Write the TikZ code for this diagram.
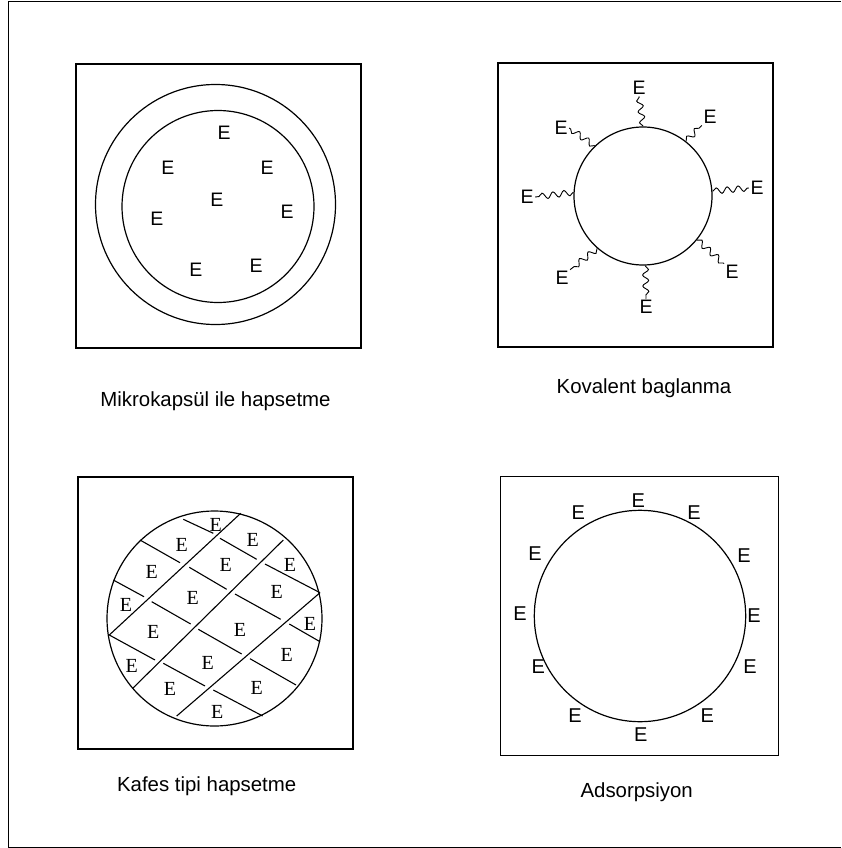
\documentclass[tikz,border=0pt]{standalone}
\usepackage{fontspec}
\setmainfont{Liberation Sans}
\newfontfamily\serifE{Liberation Serif}
\usetikzlibrary{decorations.pathmorphing}
\tikzset{
  frame/.style={line width=0.9pt},
  box/.style={line width=1.2pt},
  ring/.style={line width=1.2pt},
  ee/.style={inner sep=1.5pt, font=\fontsize{19.5}{19.5}\selectfont},
  eb/.style={inner sep=1.5pt, font=\fontsize{20}{20}\selectfont},
  es/.style={inner sep=1.5pt, font=\serifE\fontsize{20}{20}\selectfont},
  lab/.style={anchor=base, inner sep=0pt, font=\fontsize{20.4}{22}\selectfont},
  grid/.style={line width=1.1pt},
  wavy/.style={line width=0.9pt, decorate, decoration={snake, amplitude=3pt, segment length=11pt, pre length=0.5pt, post length=0.5pt}},
}
\begin{document}
\begin{tikzpicture}[x=1pt,y=-1pt]
\useasboundingbox (0,0) rectangle (841,848);
% outer frame
\draw[frame] (841,1) -- (8,1) -- (8,847) -- (841,847);

% ---------- top-left: Mikrokapsul ----------
\draw[box] (76,64) rectangle (361,348);
\draw[ring] (215.5,204.5) circle[radius=120pt];
\draw[ring] (218,206.5) circle[radius=96pt];
\node[ee] (m1) at (224,133) {E};
\node[ee] (m2) at (168,168) {E};
\node[ee] (m3) at (267,168) {E};
\node[ee] (m4) at (217,200) {E};
\node[ee] (m5) at (157,219) {E};
\node[ee] (m6) at (287,212) {E};
\node[ee] (m7) at (196,270) {E};
\node[ee] (m8) at (256,266) {E};
\node[lab] (l1) at (215.5,406.7) {Mikrokapsül ile hapsetme};

% ---------- top-right: Kovalent ----------
\draw[box] (498,63) rectangle (773,347);
\node[circle, draw, ring, minimum size=138pt, inner sep=0pt] (c2) at (643,196) {};
\node[ee] (k1) at (639,88) {E};
\node[ee] (k2) at (710,117) {E};
\node[ee] (k3) at (757,188) {E};
\node[ee] (k4) at (732,272) {E};
\node[ee] (k5) at (646,307) {E};
\node[ee] (k6) at (562,278) {E};
\node[ee] (k7) at (527,197) {E};
\node[ee] (k8) at (561,128) {E};
\draw[wavy] (c2.90) -- (k1.south);
\draw[wavy] (c2.52) -- (k2.south west);
\draw[wavy] (c2.4) -- (k3.west);
\draw[wavy] (c2.-39) -- (k4.north west);
\draw[wavy] (c2.-88) -- (k5.north);
\draw[wavy] (c2.-131) -- (k6.north east);
\draw[wavy] (c2.177) -- (k7.east);
\draw[wavy] (c2.134) -- (k8.east);
\node[lab] (l2) at (644,393.3) {Kovalent baglanma};

% ---------- bottom-left: Kafes ----------
\draw[box] (78,477) rectangle (353,749);
\draw[ring] (214.5,618.5) circle[radius=107.5pt];
% long diagonal lines
\draw[grid] (109.3,635) -- (240.7,513.3);
\draw[grid] (132.7,688.3) -- (283.3,540);
\draw[grid] (176.7,716) -- (320,592.7);
% short staggered segments
\draw[grid] (183.3,519.3) -- (213.3,533.3);
\draw[grid] (220,538.3) -- (256.7,559.3);
\draw[grid] (265,564) -- (320,592.7);
\draw[grid] (140,540) -- (180,562.7);
\draw[grid] (189.3,567.3) -- (226.7,589.3);
\draw[grid] (235,594) -- (280.7,619.3);
\draw[grid] (289.3,624) -- (320,641.7);
\draw[grid] (113.3,580) -- (144,596.7);
\draw[grid] (151.7,601.7) -- (190.7,624);
\draw[grid] (198.3,629.3) -- (241.7,654);
\draw[grid] (250,658.7) -- (296,685);
\draw[grid] (109.3,635) -- (155,660);
\draw[grid] (163.3,663.3) -- (205,686);
\draw[grid] (213.3,690) -- (262.7,716);
\node[es] (s1) at (215.7,525) {E};
\node[es] (s2) at (181.7,545) {E};
\node[es] (s3) at (252.7,540) {E};
\node[es] (s4) at (151.7,571.7) {E};
\node[es] (s5) at (225.7,565) {E};
\node[es] (s6) at (290,565) {E};
\node[es] (s7) at (126,605) {E};
\node[es] (s8) at (192.7,598.3) {E};
\node[es] (s9) at (276.7,591.7) {E};
\node[es] (s10) at (153.3,631.7) {E};
\node[es] (s11) at (240,630) {E};
\node[es] (s12) at (310,624) {E};
\node[es] (s13) at (131.7,666) {E};
\node[es] (s14) at (207.7,662.7) {E};
\node[es] (s15) at (286.7,655) {E};
\node[es] (s16) at (170,689.3) {E};
\node[es] (s17) at (256.7,688.3) {E};
\node[es] (s18) at (217.3,711.7) {E};
\node[lab] (l3) at (206.7,791.7) {Kafes tipi hapsetme};

% ---------- bottom-right: Adsorpsiyon ----------
\draw[box] (500.7,476.7) rectangle (778.7,755.7);
\draw[ring] (640,616) circle[radius=105.7pt];
\node[eb] (a1) at (638.3,501) {E};
\node[eb] (a2) at (694,512.3) {E};
\node[eb] (a3) at (744,555.7) {E};
\node[eb] (a4) at (754,615.7) {E};
\node[eb] (a5) at (750,666.7) {E};
\node[eb] (a6) at (707.3,715.7) {E};
\node[eb] (a7) at (640.7,735) {E};
\node[eb] (a8) at (575,715.7) {E};
\node[eb] (a9) at (538.3,666.7) {E};
\node[eb] (a10) at (520,613.3) {E};
\node[eb] (a11) at (535,553.3) {E};
\node[eb] (a12) at (578.3,512.3) {E};
\node[lab] (l4) at (636.7,797.7) {Adsorpsiyon};
\end{tikzpicture}
\end{document}
